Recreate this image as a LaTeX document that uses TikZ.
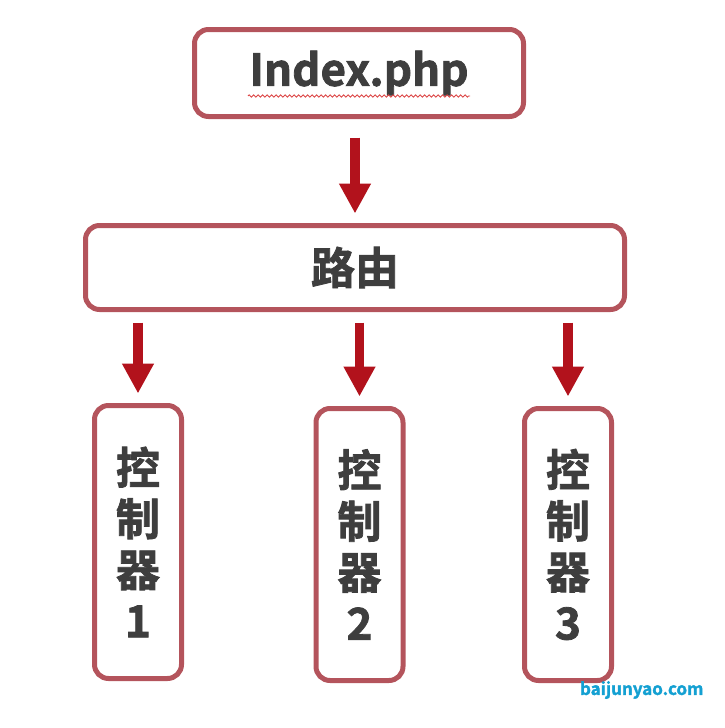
\documentclass[tikz,border=0pt]{standalone}
\usepackage{fontspec}
\usepackage{tikz}
\usetikzlibrary{arrows.meta,decorations.pathmorphing}
\newfontfamily\cjk{Noto Sans CJK SC}[BoldFont={Noto Sans CJK SC Bold},
  BoldFeatures={FakeBold=1.8}]
\definecolor{frame}{RGB}{180,84,92}
\definecolor{flowred}{RGB}{178,18,28}
\definecolor{ink}{RGB}{62,62,62}
\definecolor{wmark}{RGB}{20,160,210}
\definecolor{squig}{RGB}{220,70,70}
\tikzset{
  box/.style={draw=frame,line width=5pt,rounded corners=14pt,outer sep=0pt,
    inner sep=0pt,text=ink,align=center,
    font=\cjk\bfseries\fontsize{44}{51}\selectfont},
  flow/.style={draw=flowred,line width=9.5pt,-{Triangle[width=30pt,length=30pt]}},
}

\begin{document}
\begin{tikzpicture}[x=1pt,y=-1pt]
  \useasboundingbox (0,0) rectangle (724,728);
  % entry file and router
  \node[box,minimum width=329pt,minimum height=87pt,
    font=\cjk\bfseries\fontsize{44}{48}\selectfont] (entry) at (359,73) {Index.php};
  \draw[squig,line width=0.8pt,decorate,
    decoration={zigzag,amplitude=1.2pt,segment length=4.5pt}] (248,96) -- (470,96);
  \node[box,minimum width=539pt,minimum height=84pt] (router) at (355,267.5) {路由};
  % three controllers
  \foreach \n/\x/\y/\h in {1/138/542/273,2/359.5/544.5/272,3/568/544.5/272}
    \node[box,minimum width=87pt,minimum height=\h pt] (ctrl\n) at (\x,\y) {控\\制\\器\\\n};
  % arrows
  \draw[flow,shorten <=21pt,shorten >=12pt] (entry.south -| router.north) -- (router.north);
  \foreach \n in {1,2,3}
    \draw[flow,shorten <=13pt,shorten >=12pt] (router.south -| ctrl\n.north) -- (ctrl\n.north);
  % watermark
  \node[anchor=east,text=wmark,font=\cjk\bfseries\fontsize{17}{20}\selectfont] (wm)
    at (707,690) {baijunyao.com};
\end{tikzpicture}
\end{document}
